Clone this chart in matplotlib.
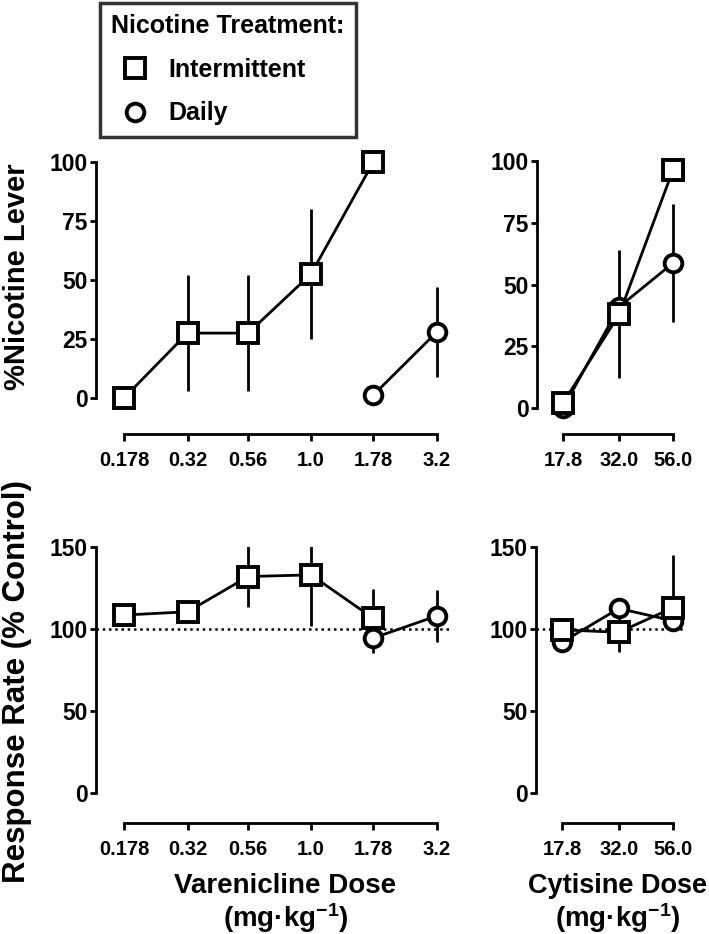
import numpy as np
import matplotlib
matplotlib.use("Agg")
import matplotlib.pyplot as plt
from matplotlib.lines import Line2D

plt.rcParams['font.family'] = ['Liberation Sans', 'DejaVu Sans']
plt.rcParams['font.weight'] = 'bold'
plt.rcParams['mathtext.fontset'] = 'custom'
plt.rcParams['mathtext.rm'] = 'Liberation Sans:bold'
plt.rcParams['mathtext.default'] = 'regular'

# ---- data ----
var_doses = [0.178, 0.32, 0.56, 1.0, 1.78, 3.2]
var_tick_labels = ["0.178", "0.32", "0.56", "1.0", "1.78", "3.2"]
var_int_doses = [0.178, 0.32, 0.56, 1.0, 1.78]
var_daily_doses = [1.78, 3.2]

var_int_lever = [0, 27.5, 27.5, 52.5, 100]
var_int_lever_err = [0, 24.5, 24.5, 27.5, 0]
var_daily_lever = [1.3, 28]
var_daily_lever_err = [0, 19]

var_int_rate = [108.5, 110.5, 132, 133, 106.5]
var_int_rate_err = [0, 0, 18.5, 31, 18]
var_daily_rate = [94.5, 108]
var_daily_rate_err = [9, 16]

cyt_doses = [17.8, 32.0, 56.0]
cyt_tick_labels = ["17.8", "32.0", "56.0"]
cyt_int_lever = [2, 38, 96.5]
cyt_int_lever_err = [0, 26, 0]
cyt_daily_lever = [0, 41, 58.7]
cyt_daily_lever_err = [0, 0, 24]

cyt_int_rate = [99.5, 98, 113]
cyt_int_rate_err_lo = [0, 12, 0]   # only the visible half of each bar
cyt_int_rate_err_hi = [0, 12, 32]
cyt_daily_rate = [92, 112.5, 105]
cyt_daily_rate_err = [0, 0, 0]

W, H = 709, 934
fig = plt.figure(figsize=(W / 100, H / 100), dpi=100)


def px_axes(left, top, right, bottom):
    # pixel box -> figure fraction
    return fig.add_axes([left / W, 1 - bottom / H, (right - left) / W, (bottom - top) / H])


def style(ax, xlim, ylim, ybounds, yticks, xticks, xlabels, x_out):
    ax.set_xscale('log')
    ax.set_xlim(*xlim)
    ax.set_ylim(*ylim)
    for s in ['top', 'right']:
        ax.spines[s].set_visible(False)
    ax.spines['left'].set_linewidth(2.0)
    ax.spines['bottom'].set_linewidth(2.0)
    ax.spines['left'].set_bounds(*ybounds)
    ax.spines['bottom'].set_bounds(xticks[0], xticks[-1])
    ax.spines['bottom'].set_position(('outward', x_out))
    ax.set_yticks(yticks)
    ax.set_yticklabels([str(t) for t in yticks])
    ax.xaxis.set_minor_locator(matplotlib.ticker.NullLocator())
    ax.set_xticks(xticks)
    ax.set_xticklabels(xlabels)
    ax.tick_params(axis='y', length=4, width=2, labelsize=16.5, pad=2)
    ax.tick_params(axis='x', length=5, width=2, labelsize=14.5, pad=7)
    ax.patch.set_visible(False)


def series(ax, x, y, err, marker, ms):
    ax.errorbar(x, y, yerr=err, fmt='none', ecolor='black', elinewidth=2, capsize=0, zorder=2)
    ax.plot(x, y, color='black', lw=2, zorder=3)
    ax.plot(x, y, linestyle='none', marker=marker, ms=ms, mfc='white', mec='black',
            mew=2.8, zorder=4, clip_on=False)


# top-left: varenicline, % nicotine lever
ax1 = px_axes(96, 150.2, 450, 409.8)
style(ax1, (0.1375, 3.61), (-5, 105), (0, 100), [0, 25, 50, 75, 100],
      var_doses, var_tick_labels, 17.4)
series(ax1, var_daily_doses, var_daily_lever, var_daily_lever_err, 'o', 12.7)
series(ax1, var_int_doses, var_int_lever, var_int_lever_err, 's', 13.8)

# top-right: cytisine, % nicotine lever
ax2 = px_axes(537, 148.65, 685, 420.35)
style(ax2, (13.58, 63.4), (-5, 105), (0, 100), [0, 25, 50, 75, 100],
      cyt_doses, cyt_tick_labels, 9.8)
series(ax2, cyt_doses, cyt_daily_lever, cyt_daily_lever_err, 'o', 12.7)
series(ax2, cyt_doses, cyt_int_lever, cyt_int_lever_err, 's', 13.8)

# bottom-left: varenicline, response rate
ax3 = px_axes(96, 547, 450, 806.1)
style(ax3, (0.1375, 3.61), (-8, 150), (0, 150), [0, 50, 100, 150],
      var_doses, var_tick_labels, 12.2)
ax3.axhline(100, color='black', lw=1.8, linestyle=(0, (1, 1.5)), zorder=1)
series(ax3, var_daily_doses, var_daily_rate, var_daily_rate_err, 'o', 12.7)
series(ax3, var_int_doses, var_int_rate, var_int_rate_err, 's', 13.8)

# bottom-right: cytisine, response rate
ax4 = px_axes(536, 547, 685, 806.1)
style(ax4, (13.58, 63.4), (-8, 150), (0, 150), [0, 50, 100, 150],
      cyt_doses, cyt_tick_labels, 12.2)
ax4.axhline(100, color='black', lw=1.8, linestyle=(0, (1, 1.5)), zorder=1)
series(ax4, cyt_doses, cyt_daily_rate, cyt_daily_rate_err, 'o', 12.7)
series(ax4, cyt_doses, cyt_int_rate, [cyt_int_rate_err_lo, cyt_int_rate_err_hi], 's', 13.8)

# axis titles
fig.text(3 / W, 1 - 277 / H, "%Nicotine Lever", rotation=90, ha='left', va='center',
         fontsize=21, fontweight='bold')
fig.text(2 / W, 1 - 682 / H, "Response Rate (% Control)", rotation=90, ha='left', va='center',
         fontsize=22.5, fontweight='bold')
fig.text(285 / W, 1 - 886 / H, "Varenicline Dose", ha='center', va='center',
         fontsize=20, fontweight='bold')
fig.text(286 / W, 1 - 918 / H, "(mg·kg$^{-1}$)", ha='center', va='center',
         fontsize=20, fontweight='bold')
fig.text(617 / W, 1 - 886 / H, "Cytisine Dose", ha='center', va='center',
         fontsize=19.5, fontweight='bold')
fig.text(618 / W, 1 - 918 / H, "(mg·kg$^{-1}$)", ha='center', va='center',
         fontsize=20, fontweight='bold')

# legend
handles = [
    Line2D([], [], linestyle='none', marker='s', ms=13.8, mfc='white', mec='black', mew=2.8),
    Line2D([], [], linestyle='none', marker='o', ms=12.7, mfc='white', mec='black', mew=2.8),
]
leg = fig.legend(handles, ["Intermittent", "Daily"], loc='upper left',
                 bbox_to_anchor=(100 / W, 1 - 3 / H), borderaxespad=0,
                 title="Nicotine Treatment:", alignment='left',
                 prop={'size': 18, 'weight': 'bold'},
                 title_fontproperties={'size': 18, 'weight': 'bold'},
                 handlelength=1.9, handletextpad=0.4, labelspacing=0.78,
                 borderpad=0.45, fancybox=False, frameon=True)
leg.get_frame().set_edgecolor('black')
leg.get_frame().set_linewidth(2.5)

fig.savefig("out.png", dpi=100)
